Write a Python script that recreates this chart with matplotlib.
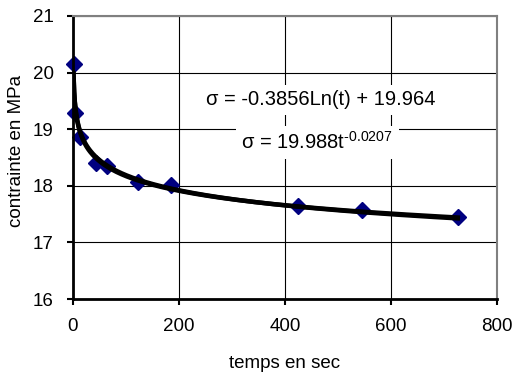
import numpy as np
import matplotlib.pyplot as plt

plt.rcParams['font.family'] = ['Liberation Sans', 'DejaVu Sans']
plt.rcParams['axes.unicode_minus'] = False

# mesures (temps en sec, contrainte en MPa)
temps = [1, 4, 13, 43, 65, 123, 185, 425, 545, 726]
contrainte = [20.15, 19.29, 18.86, 18.40, 18.35, 18.07, 18.01, 17.65, 17.57, 17.44]

# courbes de tendance (equations affichees)
a_log, b_log = -0.3856, 19.964
a_pow, b_pow = 19.988, -0.0207

fig = plt.figure(figsize=(5.13, 3.76), dpi=100)
ax = fig.add_axes([73 / 513, 1 - 299 / 376, 424 / 513, 283 / 376])

t = np.linspace(1, max(temps), 600)
ax.plot(t, a_log * np.log(t) + b_log, color='black', lw=3.2, zorder=3)
ax.plot(t, a_pow * t ** b_pow, color='black', lw=3.2, zorder=3)
ax.plot(temps, contrainte, linestyle='none', marker='D', color='#000080',
        markersize=8.5, zorder=2, clip_on=False)

ax.set_xlim(0, 800)
ax.set_ylim(16, 21)
ax.set_xticks(range(0, 801, 200))
ax.set_yticks(range(16, 22))
ax.grid(True, color='black', lw=0.8)
ax.set_axisbelow(True)

for s in ['left', 'bottom']:
    ax.spines[s].set_linewidth(2)
    ax.spines[s].set_color('black')
for s in ['top', 'right']:
    ax.spines[s].set_linewidth(1.5)
    ax.spines[s].set_color('#808080')

ax.tick_params(direction='out', length=4, width=1.5, labelsize=13.5)
ax.tick_params(axis='x', pad=10)
ax.tick_params(axis='y', pad=10)

ax.set_xlabel('temps en sec', fontsize=13.5)
ax.set_ylabel('contrainte en MPa', fontsize=13.5)
ax.xaxis.label.set_verticalalignment('center')
ax.yaxis.label.set_verticalalignment('center')
ax.xaxis.set_label_coords(0.5, (299 - 363) / 283)
ax.yaxis.set_label_coords((17 - 73) / 424, (299 - 151) / 283)

ax.text(467, 19.52, u'\u03c3 = -0.3856Ln(t) + 19.964', fontsize=14.5, ha='center', va='center',
        bbox=dict(facecolor='white', edgecolor='none', pad=4), zorder=4)
ax.text(461, 18.77, u'\u03c3 = 19.988t$^{\\mathregular{\u2010 0.0207}}$', fontsize=14.5, ha='center', va='center',
        bbox=dict(facecolor='white', edgecolor='none', pad=4), zorder=4)

fig.savefig('out.png', dpi=100)
